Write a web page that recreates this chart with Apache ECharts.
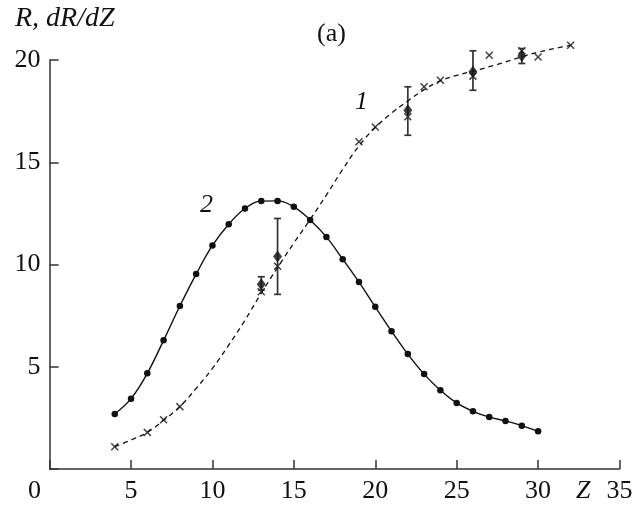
<!DOCTYPE html>
<html>
<head>
<meta charset="utf-8">
<script src="https://cdn.jsdelivr.net/npm/echarts@6/dist/echarts.min.js"></script>
<style>
  html, body { margin: 0; padding: 0; background: #fff; }
  #chart { width: 640px; height: 506px; }
</style>
</head>
<body>
<div id="chart"></div>
<script>
// curve 2: dR/dZ, solid line with dots (Z = 4..30)
const z2 = [4, 5, 6, 7, 8, 9, 10, 11, 12, 13, 14, 15, 16, 17, 18, 19, 20, 21, 22, 23, 24, 25, 26, 27, 28, 29, 30];
const dRdZ = [2.69, 3.44, 4.68, 6.29, 7.97, 9.53, 10.93, 11.97, 12.74, 13.1, 13.11, 12.82, 12.18, 11.35, 10.26, 9.14, 7.93, 6.74, 5.62, 4.64, 3.85, 3.23, 2.82, 2.54, 2.35, 2.12, 1.84];

// curve 1: R, dashed fitted line (Z = 4..32)
const zFit = [4, 5, 6, 7, 8, 9, 10, 11, 12, 13, 14, 15, 16, 17, 18, 19, 20, 21, 22, 23, 24, 25, 26, 27, 28, 29, 30, 31, 32];
const rFit = [1.09, 1.42, 1.79, 2.38, 3.05, 3.94, 4.92, 6.06, 7.28, 8.6, 9.85, 11.05, 12.2, 13.4, 14.65, 15.8, 16.7, 17.4, 18.0, 18.55, 18.98, 19.25, 19.45, 19.67, 19.9, 20.16, 20.38, 20.56, 20.72];

// curve 1: computed points (crosses)
const zCross = [4, 6, 7, 8, 13, 14, 19, 20, 22, 23, 24, 26, 27, 29, 30, 32];
const rCross = [1.09, 1.79, 2.41, 3.05, 8.67, 9.92, 16.0, 16.72, 17.22, 18.69, 19.01, 19.21, 20.23, 20.45, 20.15, 20.72];

// experiment (diamonds with error bars)
const zExp = [13, 14, 22, 26, 29];
const rExp = [9.03, 10.39, 17.54, 19.42, 20.2];
const rLow = [8.75, 8.54, 16.32, 18.52, 19.83];
const rHigh = [9.4, 12.25, 18.69, 20.45, 20.56];

const serif = 'Liberation Serif';
const ink = '#111';
const fs = 26;
const pair = (xs, ys) => xs.map((x, i) => [x, ys[i]]);
const crossPath = 'path://M0,1.3L1.3,0L5,3.7L8.7,0L10,1.3L6.3,5L10,8.7L8.7,10L5,6.3L1.3,10L0,8.7L3.7,5Z';
const txt = (text, left, top, italic, size) => ({
  type: 'text', left, top,
  style: { text, font: (italic ? 'italic ' : '') + (size || fs) + 'px "Liberation Serif"', fill: ink }
});

const chart = echarts.init(document.getElementById('chart'));

const option = {
  backgroundColor: '#fff',
  animation: false,
  grid: { left: 49.6, right: 20.5, top: 60, bottom: 37 },
  xAxis: {
    type: 'value', min: 0, max: 35, interval: 5,
    axisLine: { lineStyle: { color: '#333', width: 1.5 } },
    axisTick: { inside: true, length: 9, lineStyle: { color: '#333', width: 1.5 } },
    axisLabel: {
      margin: 9, color: ink, fontFamily: serif, fontSize: fs,
      formatter: v => (v === 0 ? '' : String(v))
    },
    splitLine: { show: false }
  },
  yAxis: {
    type: 'value', min: 0, max: 20, interval: 5,
    axisLine: { show: true, lineStyle: { color: '#333', width: 1.5 } },
    axisTick: { show: true, inside: true, length: 9, lineStyle: { color: '#333', width: 1.5 } },
    axisLabel: {
      margin: 9, color: ink, fontFamily: serif, fontSize: fs,
      formatter: v => (v === 0 ? '' : String(v))
    },
    splitLine: { show: false }
  },
  graphic: [
    txt('R, dR/dZ', 15, 5, true, 28),
    txt('(a)', 317, 21, false),
    txt('1', 355, 89, true),
    txt('2', 200, 192, true),
    txt('0', 28, 478, false),
    txt('Z', 576, 478, true)
  ],
  series: [
    {
      name: 'dR/dZ', type: 'line', smooth: 0.4, clip: false,
      data: pair(z2, dRdZ),
      symbol: 'circle', symbolSize: 6.5,
      lineStyle: { color: ink, width: 1.4 },
      itemStyle: { color: ink }
    },
    {
      name: 'R fit', type: 'line', smooth: 0.4, clip: false,
      data: pair(zFit, rFit),
      showSymbol: false,
      lineStyle: { color: ink, width: 1.3, type: [5, 4] }
    },
    {
      name: 'R', type: 'scatter', clip: false,
      data: pair(zCross, rCross),
      symbol: crossPath, symbolSize: 8,
      itemStyle: { color: ink }
    },
    {
      // error bars drawn as vertical segment with caps
      name: 'err', type: 'custom', clip: false,
      data: zExp.map((z, i) => [z, rLow[i], rHigh[i]]),
      renderItem: (params, api) => {
        const lo = api.coord([api.value(0), api.value(1)]);
        const hi = api.coord([api.value(0), api.value(2)]);
        const w = 3.5;
        const st = { stroke: '#333', lineWidth: 1.7 };
        return {
          type: 'group',
          children: [
            { type: 'line', shape: { x1: lo[0], y1: lo[1], x2: hi[0], y2: hi[1] }, style: st },
            { type: 'line', shape: { x1: lo[0] - w, y1: lo[1], x2: lo[0] + w, y2: lo[1] }, style: st },
            { type: 'line', shape: { x1: hi[0] - w, y1: hi[1], x2: hi[0] + w, y2: hi[1] }, style: st }
          ]
        };
      },
      z: 3
    },
    {
      name: 'exp', type: 'scatter', clip: false,
      data: pair(zExp, rExp),
      symbol: 'diamond', symbolSize: [9, 12],
      itemStyle: { color: ink },
      z: 4
    }
  ]
};

chart.setOption(option);
</script>
</body>
</html>
